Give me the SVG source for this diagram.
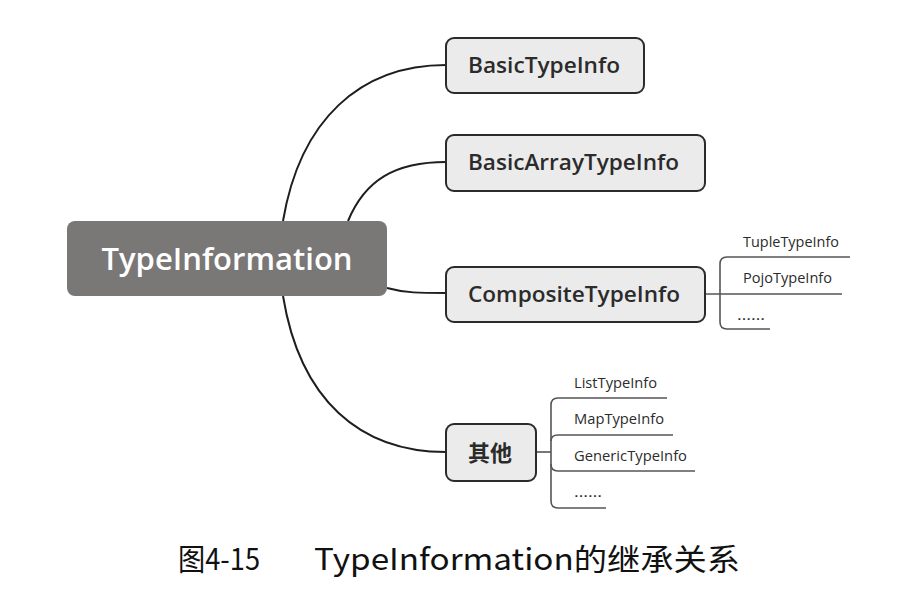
<svg xmlns="http://www.w3.org/2000/svg" width="901" height="604" viewBox="0 0 901 604">
<style>
.box{fill:#ebebeb;stroke:#2b2b2b;stroke-width:2}
.root{fill:#7a7777}
.lbl{font-family:"Open Sans","Noto Sans",sans-serif;font-weight:600;font-size:22px;fill:#2b2b2b}
.rlbl{font-family:"Open Sans","Noto Sans",sans-serif;font-weight:600;font-size:30px;fill:#ffffff}
.sm{font-family:"Open Sans","Noto Sans",sans-serif;font-size:14px;fill:#2b2b2b}
.con{fill:none;stroke:#1e1e1e;stroke-width:2}
.br{fill:none;stroke:#555;stroke-width:1.6}
.cap{font-family:"Noto Sans CJK SC","Noto Sans",sans-serif;font-size:30px;fill:#111}
</style>
<rect width="901" height="604" fill="#ffffff"/>
<g id="connectors">
<path class="con" d="M283,221 C300,120 360,65 446,65"/>
<path class="con" d="M348,221 C365,180 395,162 446,162"/>
<path class="con" d="M387,288 C405,293 420,293 446,293"/>
<path class="con" d="M283,296 C300,400 360,452 446,452"/>
<path class="br" d="M705,294 H842"/>
<path class="br" d="M850,257 H727 Q720,257 720,264 V322 Q720,329 727,329 H770"/>
<path class="br" d="M536,452 H551"/>
<path class="br" d="M667,398 H558 Q551,398 551,405 V501 Q551,508 558,508 H606"/>
<path class="br" d="M551,441 Q551,435 558,435 H673"/>
<path class="br" d="M551,464 Q551,471 558,471 H695"/>
</g>
<g id="root">
<rect class="root" x="67" y="221" width="320" height="75" rx="8"/>
<text class="rlbl" x="227" y="270" text-anchor="middle" textLength="251" lengthAdjust="spacingAndGlyphs">TypeInformation</text>
</g>
<g id="basic">
<rect class="box" x="446" y="38" width="198" height="55" rx="8"/>
<text class="lbl" x="468" y="73" textLength="152" lengthAdjust="spacingAndGlyphs">BasicTypeInfo</text>
</g>
<g id="basicarray">
<rect class="box" x="446" y="135" width="259" height="56" rx="8"/>
<text class="lbl" x="468" y="170" textLength="211" lengthAdjust="spacingAndGlyphs">BasicArrayTypeInfo</text>
</g>
<g id="composite">
<rect class="box" x="446" y="267" width="259" height="55" rx="8"/>
<text class="lbl" x="468" y="302" textLength="212" lengthAdjust="spacingAndGlyphs">CompositeTypeInfo</text>
</g>
<g id="other">
<rect class="box" x="446" y="424" width="90" height="57" rx="8"/>
<text class="lbl" x="468" y="461" style="font-family:'Noto Sans CJK SC',sans-serif">其他</text>
</g>
<g id="composite-children">
<text class="sm" x="743" y="247" textLength="96" lengthAdjust="spacingAndGlyphs">TupleTypeInfo</text>
<text class="sm" x="743" y="283" textLength="89" lengthAdjust="spacingAndGlyphs">PojoTypeInfo</text>
<text class="sm" x="737" y="320" textLength="28" lengthAdjust="spacingAndGlyphs">……</text>
</g>
<g id="other-children">
<text class="sm" x="574" y="388" textLength="83" lengthAdjust="spacingAndGlyphs">ListTypeInfo</text>
<text class="sm" x="574" y="424" textLength="90" lengthAdjust="spacingAndGlyphs">MapTypeInfo</text>
<text class="sm" x="574" y="461" textLength="113" lengthAdjust="spacingAndGlyphs">GenericTypeInfo</text>
<text class="sm" x="574" y="497" textLength="28" lengthAdjust="spacingAndGlyphs">……</text>
</g>
<g id="caption">
<text class="cap" x="178" y="570" textLength="82" lengthAdjust="spacingAndGlyphs">图4-15</text>
<text class="cap" x="314" y="570" textLength="426" lengthAdjust="spacingAndGlyphs">TypeInformation的继承关系</text>
</g>
</svg>
